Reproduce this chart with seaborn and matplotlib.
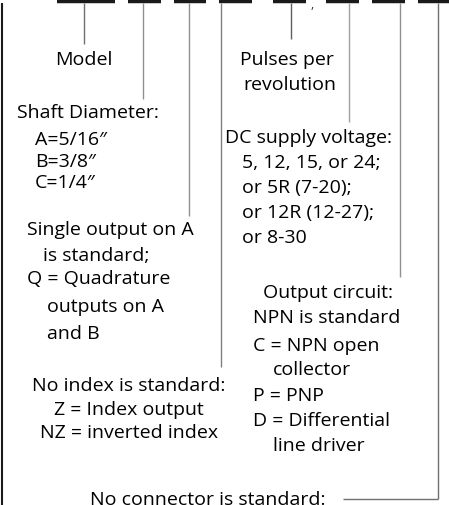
import numpy as np
import pandas as pd
import seaborn as sns
import matplotlib.pyplot as plt

# ordering code diagram: slots along the top, leader lines down to the labels
slot_left = [57, 128, 174, 219, 273, 326, 372, 418]
slot_right = [115, 161, 206, 252, 306, 359, 405, 449]
leader_x = [84, 143, 189, 221, 291, 349, 400, 438]
leader_end = [45, 100, 217, 368, 40, 123, 278, 500]
leader_color = ['#707070', '#909090', '#909090', '#808080', '#606060', '#a0a0a0', '#909090', '#707070']

# label text, one row per printed line
label_text = ['Model', 'Pulses per', 'revolution',
              'Shaft Diameter:', 'A=5/16\u2033', 'B=3/8\u2033', 'C=1/4\u2033',
              'Single output on A', 'is standard;', 'Q = Quadrature', 'outputs on A', 'and B',
              'No index is standard:', 'Z = Index output', 'NZ = inverted index',
              'DC supply voltage:', '5, 12, 15, or 24;', 'or 5R (7-20);', 'or 12R (12-27);', 'or 8-30',
              'Output circuit:', 'NPN is standard', 'C = NPN open', 'collector', 'P = PNP',
              'D = Differential', 'line driver',
              'No connector is standard:']
label_x = [84, 287, 290,
           17, 35, 35, 35,
           27, 43, 27, 47, 47,
           129, 129, 129,
           225, 242, 242, 242, 242,
           263, 253, 253, 273, 253, 253, 273,
           208]
label_y = [65, 65, 90,
           118, 145, 167, 188,
           235, 261, 284, 312, 339,
           391, 415, 438,
           143, 168, 193, 218, 243,
           298, 323, 351, 375, 401, 426, 451,
           505]
label_ha = ['center', 'center', 'center',
            'left', 'left', 'left', 'left',
            'left', 'left', 'left', 'left', 'left',
            'center', 'center', 'center',
            'left', 'left', 'left', 'left', 'left',
            'left', 'left', 'left', 'left', 'left', 'left', 'left',
            'center']

sns.set_style("white")
plt.rcParams['font.family'] = ['Open Sans', 'DejaVu Sans']

fig = plt.figure(figsize=(4.49, 5.06), dpi=100)
ax = fig.add_axes([0, 0, 1, 1])
ax.set_xlim(0, 449)
ax.set_ylim(506, 0)
ax.axis('off')

# slots
ax.hlines([2] * len(slot_left), slot_left, slot_right, color='#1a1a1a', linewidth=3.2)
ax.text(312, 4, ',', fontsize=9, ha='center', va='center', color='#333333')

# leader lines
ax.vlines(leader_x, 4, leader_end, colors=leader_color, linewidth=1.0)
ax.hlines(leader_end[-1], 343, leader_x[-1], color=leader_color[-1], linewidth=1.0)

# left frame
ax.vlines(1.5, 4, 506, color='#1a1a1a', linewidth=1.5)

labels = pd.DataFrame({'text': label_text, 'x': label_x, 'y': label_y, 'ha': label_ha})
for _, r in labels.iterrows():
    ax.text(r['x'], r['y'], r['text'], ha=r['ha'], va='baseline', fontsize=14, color='black')

fig.savefig('out.png', dpi=100)
